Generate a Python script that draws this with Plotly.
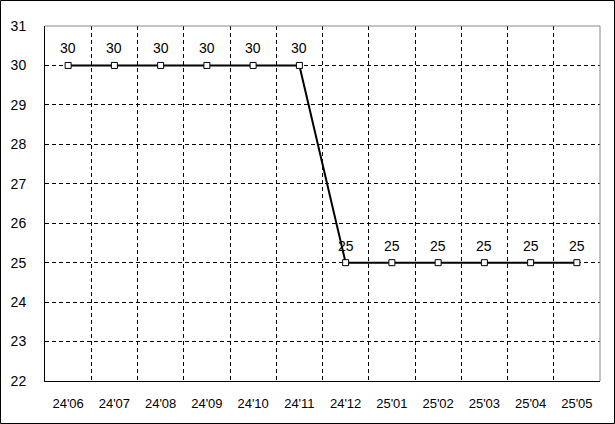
import plotly.graph_objects as go

months = ["24'06", "24'07", "24'08", "24'09", "24'10", "24'11",
          "24'12", "25'01", "25'02", "25'03", "25'04", "25'05"]
values = [30, 30, 30, 30, 30, 30, 25, 25, 25, 25, 25, 25]
y_ticks = list(range(22, 32))

W, H = 615, 424
L, R, T, B = 45, 15, 26, 43
pw, ph = W - L - R, H - T - B
FONT = "Liberation Sans"

fig = go.Figure()
fig.add_trace(go.Scatter(
    x=months, y=values, mode="lines+markers",
    line=dict(color="black", width=2),
    marker=dict(symbol="square", size=6, color="white",
                line=dict(color="black", width=1)),
    cliponaxis=False, showlegend=False,
))

annotations = [
    dict(x=m, y=v, text=str(v), showarrow=False, yshift=17,
         xref="x", yref="y",
         font=dict(family=FONT, size=14, color="black"))
    for m, v in zip(months, values)
]

fig.update_layout(
    width=W, height=H,
    margin=dict(l=L, r=R, t=T, b=B, pad=0, autoexpand=False),
    paper_bgcolor="white", plot_bgcolor="white",
    font=dict(family=FONT, size=12, color="black"),
    xaxis=dict(type="category", tickson="boundaries", showgrid=True,
               range=[-0.5, len(months) - 0.5],
               gridcolor="black", griddash="4px,3px", gridwidth=1,
               showline=True, linecolor="black", linewidth=1,
               ticks="", ticklabelstandoff=10, zeroline=False,
               automargin=False, tickfont=dict(size=13)),
    yaxis=dict(range=[22, 31], tickvals=y_ticks, showgrid=True,
               gridcolor="black", griddash="4px,3px", gridwidth=1,
               showline=True, linecolor="black", linewidth=1,
               ticks="", ticklabelstandoff=15, zeroline=False,
               automargin=False, tickfont=dict(size=14)),
    annotations=annotations,
    shapes=[
        dict(type="line", xref="paper", yref="paper", x0=0, x1=1, y0=1, y1=1,
             line=dict(color="#888888", width=1), layer="above"),
        dict(type="line", xref="paper", yref="paper", x0=1, x1=1, y0=0, y1=1,
             line=dict(color="#888888", width=1), layer="above"),
        dict(type="rect", xref="paper", yref="paper",
             x0=-(L - 0.5) / pw, x1=(W - L - 0.5) / pw,
             y0=-(B - 0.5) / ph, y1=(H - B - 0.5) / ph,
             line=dict(color="black", width=1), layer="above"),
    ],
)

fig.write_html(
    "out.html",
    config={"displayModeBar": False},
    post_script="document.body.style.margin='0';document.body.style.padding='0';",
)
